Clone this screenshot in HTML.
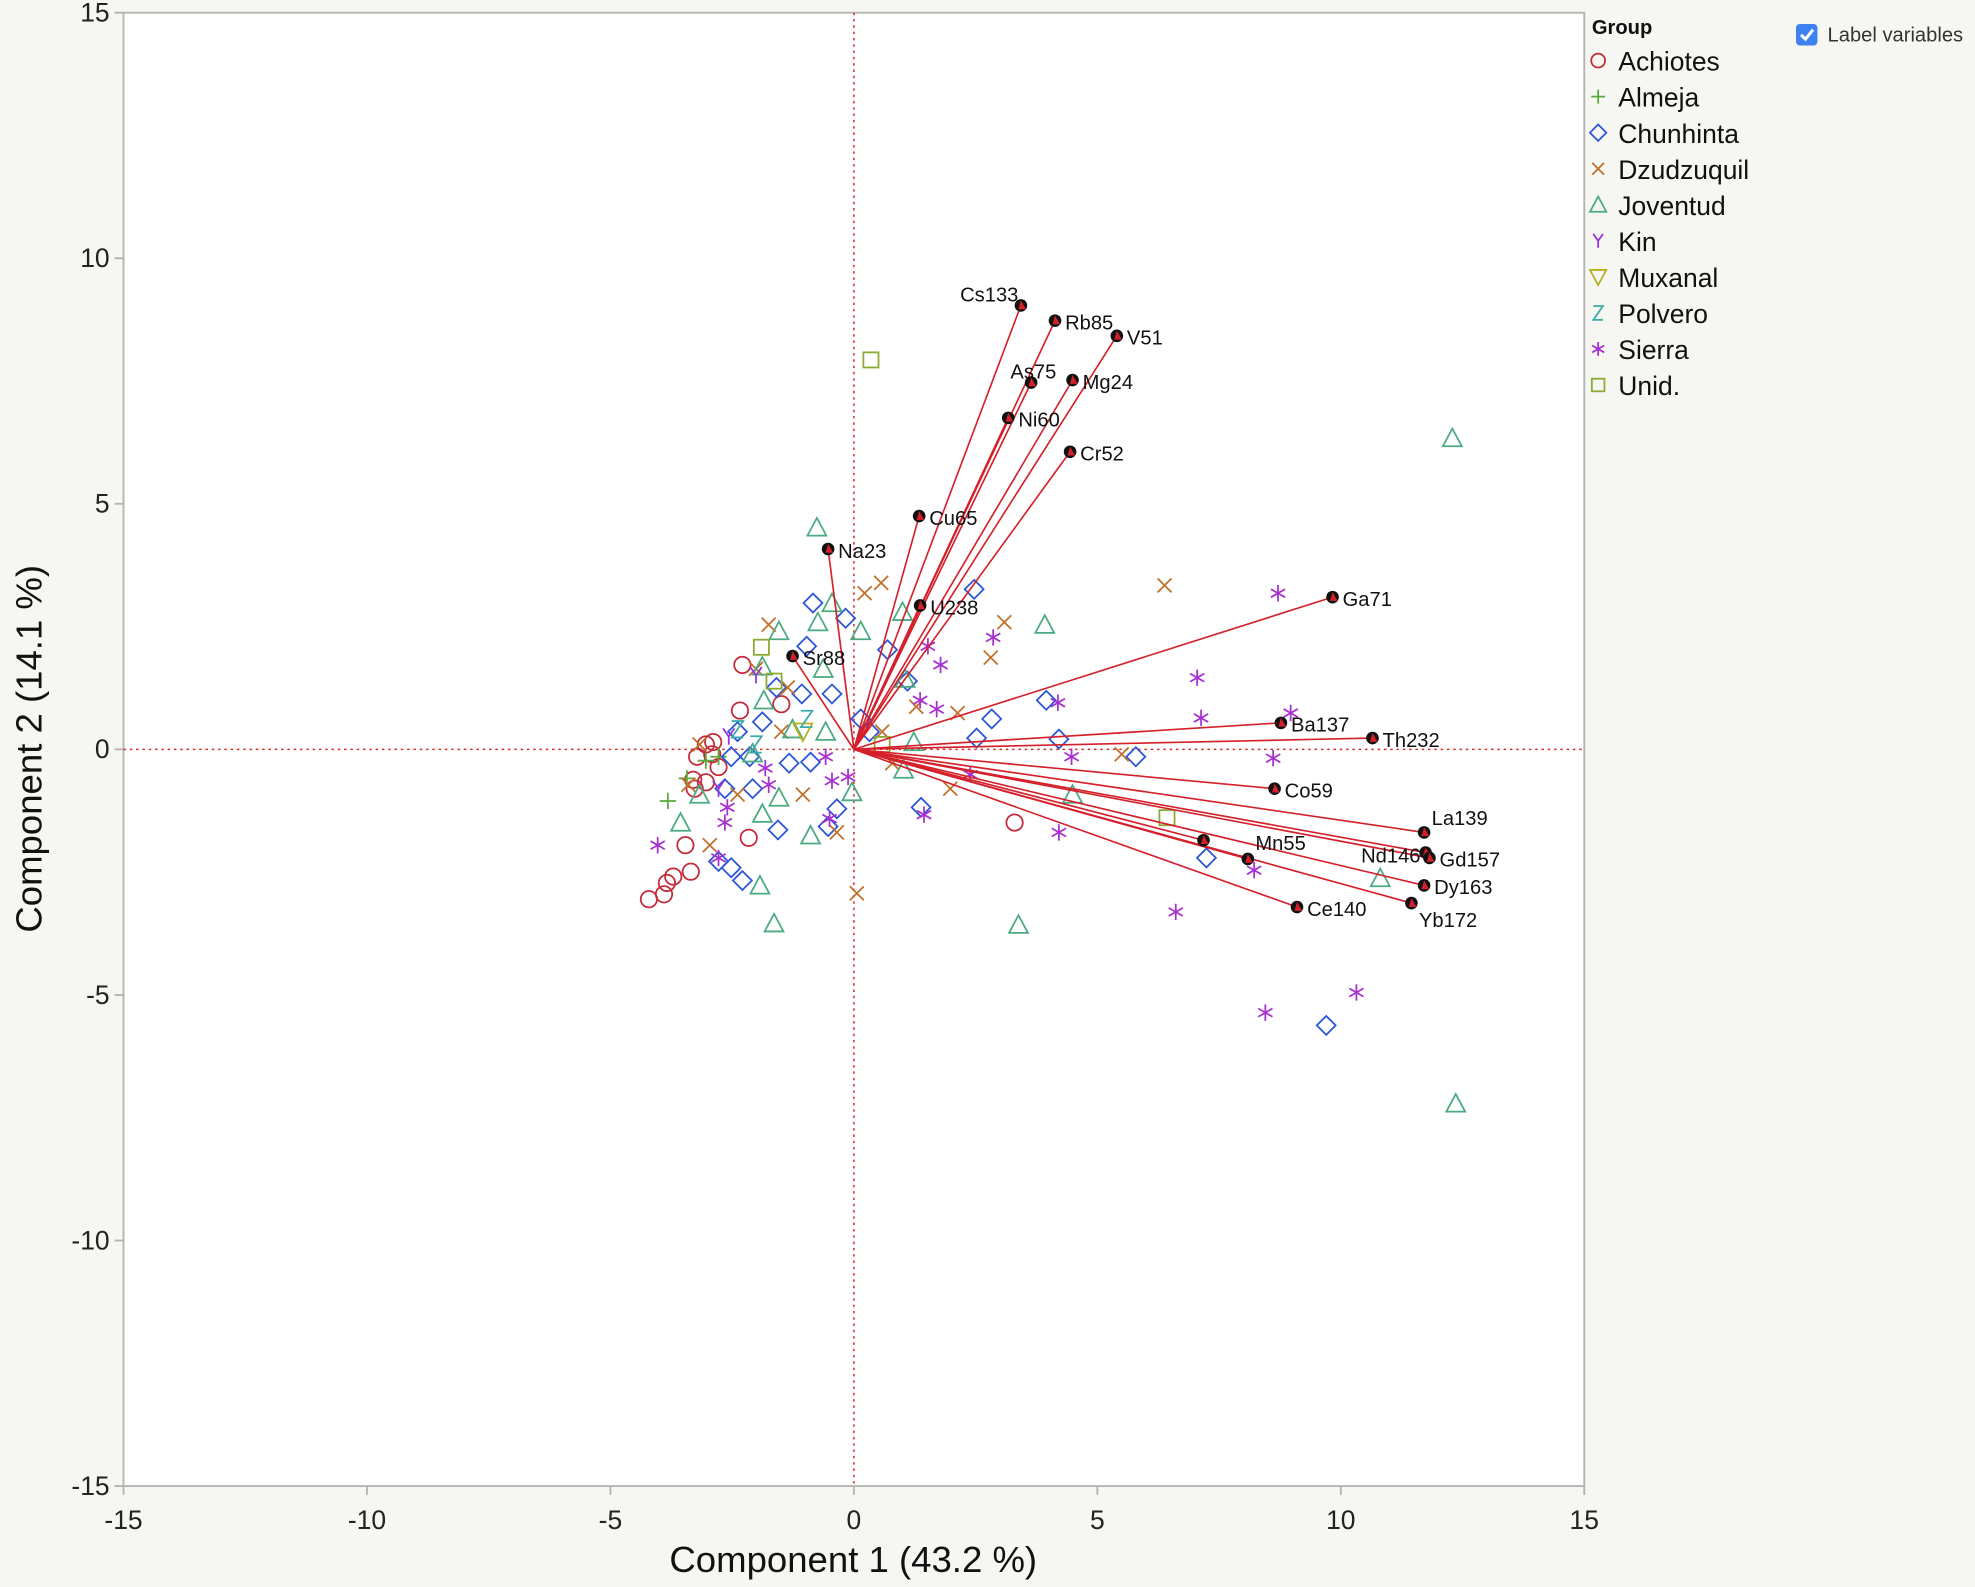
<!DOCTYPE html>
<html><head><meta charset="utf-8"><style>
html,body{margin:0;padding:0;background:#f6f6f2;}
svg{display:block;font-family:"Liberation Sans",sans-serif;}
</style></head><body>
<svg id="chart" width="1975" height="1587" viewBox="0 0 1567 1259" xmlns="http://www.w3.org/2000/svg">
<rect x="0" y="0" width="1567" height="1259" fill="#f6f6f2"/>
<rect x="98" y="10" width="1159" height="1169" fill="#ffffff" stroke="#b4b4b4" stroke-width="1.5"/>
<g id="axes"></g>
<g id="refs"></g>
<g id="scores"></g>
<g id="loadings"></g>
<text x="677" y="1247" font-size="29" text-anchor="middle" fill="#111">Component 1  (43.2 %)</text>
<text x="0" y="0" font-size="29" text-anchor="middle" fill="#111" transform="translate(33,594) rotate(-90)">Component 2  (14.1 %)</text>
<g id="legend">
<text x="1263" y="27" font-size="16" font-weight="bold" fill="#111">Group</text>
</g>
<g>
<rect x="1425" y="19" width="17" height="17" rx="3" fill="#3d82f0"/>
<path d="M1429 27.5 L1432.5 31 L1438.5 23.5" stroke="#fff" stroke-width="2.4" fill="none"/>
<text x="1450" y="33" font-size="16" fill="#333">Label variables</text>
</g>
</svg>
<script>
const xTicks=[-15,-10,-5,0,5,10,15];
const yTicks=[-15,-10,-5,0,5,10,15];
const groups=["Achiotes","Almeja","Chunhinta","Dzudzuquil","Joventud","Kin","Muxanal","Polvero","Sierra","Unid."];
const groupColors=["#c42a3a","#5aaa3c","#2a55d8","#c0702a","#4aaa80","#9a30d8","#b8b020","#3aaaaa","#a830d0","#8aaa30"];
const groupShapes=["circle","plus","diamond","x","triangle","y","tridown","z","star","square"];
const achiotesX=[-4.21,-3.90,-3.84,-3.71,-3.35,-3.46,-3.30,-3.22,-3.04,-2.89,-2.78,-2.29,-2.34,-2.16,-1.49,3.30,-3.04,-3.27,-2.91];
const achiotesY=[-3.05,-2.95,-2.72,-2.59,-2.49,-1.95,-0.62,-0.15,0.10,0.15,-0.36,1.72,0.79,-1.80,0.92,-1.49,-0.67,-0.80,-0.10];
const almejaX=[-3.82,-3.43,-3.04,-2.78];
const almejaY=[-1.05,-0.59,-0.23,-0.15];
const chunhintaX=[-0.84,-0.17,2.47,0.69,-0.97,-0.45,-1.07,-1.59,-1.88,-2.39,-2.52,-2.65,-2.78,-2.52,-2.29,-2.08,-1.56,-1.33,-0.35,-0.53,-0.89,2.83,2.52,3.95,4.21,5.79,1.38,7.24,9.70,0.32,1.10,0.14,-2.14];
const chunhintaY=[2.98,2.67,3.26,2.03,2.10,1.13,1.13,1.26,0.56,0.36,-0.15,-0.80,-2.28,-2.41,-2.67,-0.80,-1.64,-0.28,-1.21,-1.57,-0.26,0.62,0.23,1.00,0.21,-0.15,-1.18,-2.21,-5.62,0.36,1.39,0.62,-0.15];
const dzudzuquilX=[0.22,0.56,6.38,3.09,2.81,0.06,-1.75,-2.01,-3.17,-2.96,-3.40,-1.49,-0.35,-1.05,0.79,1.98,2.13,5.50,1.28,-1.36,-2.39,0.58];
const dzudzuquilY=[3.18,3.39,3.34,2.59,1.87,-2.93,2.54,1.64,0.10,-1.95,-0.72,0.36,-1.69,-0.92,-0.28,-0.80,0.74,-0.10,0.87,1.26,-0.92,0.36];
const joventudX=[-0.76,12.29,12.36,10.81,3.38,-1.64,-1.93,-0.89,-1.54,3.92,4.49,1.00,1.05,1.23,1.02,0.14,-0.45,-0.74,-1.54,-1.88,-1.85,-0.58,-1.26,-3.56,-3.17,-0.04,-2.08,-0.63,-1.88];
const joventudY=[4.52,6.34,-7.21,-2.62,-3.57,-3.54,-2.77,-1.75,-0.98,2.54,-0.92,2.80,1.44,0.15,-0.41,2.41,2.98,2.59,2.41,1.69,1.00,0.36,0.41,-1.49,-0.92,-0.87,-0.08,1.64,-1.31];
const kinX=[-2.01,-2.78,-2.57];
const kinY=[1.51,-0.80,0.26];
const muxanalX=[-1.05];
const muxanalY=[0.36];
const polveroX=[-0.97,-2.39,-2.01];
const polveroY=[0.62,0.41,0.10];
const sierraX=[8.71,7.05,7.13,8.97,8.61,8.22,6.61,8.45,10.32,4.21,4.47,4.19,2.86,1.78,1.70,1.52,2.39,1.44,-0.12,-0.45,-0.50,-0.58,-1.82,-1.75,-2.60,-2.78,-4.03,-2.65,1.36];
const sierraY=[3.18,1.46,0.64,0.74,-0.18,-2.46,-3.31,-5.36,-4.95,-1.69,-0.15,0.95,2.28,1.72,0.82,2.10,-0.51,-1.33,-0.56,-0.64,-1.41,-0.15,-0.38,-0.72,-1.18,-2.21,-1.95,-1.49,1.00];
const unidX=[0.35,-1.90,-1.64,6.43,0.58];
const unidY=[7.93,2.08,1.39,-1.39,0.10];
const loadingNames=["Cs133","Rb85","V51","As75","Mg24","Ni60","Cr52","Cu65","Na23","U238","Sr88","Ga71","Ba137","Th232","Co59","La139","Nd146","Gd157","Dy163","Yb172","Mn55","","Ce140"];
const loadingX=[3.43,4.13,5.40,3.64,4.49,3.17,4.44,1.34,-0.53,1.36,-1.26,9.83,8.77,10.65,8.64,11.71,11.74,11.82,11.71,11.45,8.09,7.18,9.10];
const loadingY=[9.04,8.73,8.42,7.47,7.52,6.75,6.06,4.75,4.08,2.93,1.90,3.10,0.54,0.23,-0.80,-1.69,-2.10,-2.21,-2.77,-3.13,-2.23,-1.85,-3.21];

const NS="http://www.w3.org/2000/svg";
const X0=98,X1=1257,Y0=1179,Y1=10;
function sx(v){return X0+(v+15)/30*(X1-X0);}
function sy(v){return Y0-(v+15)/30*(Y0-Y1);}
function mk(tag,attrs,parent){const e=document.createElementNS(NS,tag);for(const k in attrs)e.setAttribute(k,attrs[k]);parent.appendChild(e);return e;}

const axes=document.getElementById('axes');
xTicks.forEach(t=>{
  const l=mk('line',{x1:sx(t),x2:sx(t),y1:Y0,y2:Y0+7,stroke:'#b4b4b4','stroke-width':1.5},axes);
  
  
  const tx=mk('text',{x:sx(t),y:Y0+34,'font-size':21,'text-anchor':'middle',fill:'#222'},axes);
  tx.textContent=t;
  
  
});
yTicks.forEach(t=>{
  const l=mk('line',{x1:X0-7,x2:X0,y1:sy(t),y2:sy(t),stroke:'#b4b4b4','stroke-width':1.5},axes);
  
  
  const tx=mk('text',{x:X0-11,y:sy(t)+7,'font-size':21,'text-anchor':'end',fill:'#222'},axes);
  tx.textContent=t;
  
  
});
const refs=document.getElementById('refs');
const rv=mk('line',{x1:sx(0),x2:sx(0),y1:Y1,y2:Y0,stroke:'#d43030','stroke-width':1.2,'stroke-dasharray':'2,3'},refs);


const rh=mk('line',{x1:X0,x2:X1,y1:sy(0),y2:sy(0),stroke:'#d43030','stroke-width':1.2,'stroke-dasharray':'2,3'},refs);



function marker(shape,x,y,c,parent,s){
  s=s||6.5;
  const g=mk('g',{stroke:c,fill:'none','stroke-width':1.4},parent);
  if(shape==='circle')mk('circle',{cx:x,cy:y,r:s},g);
  else if(shape==='plus'){mk('path',{d:`M${x-s} ${y}H${x+s}M${x} ${y-s}V${y+s}`},g);}
  else if(shape==='diamond')mk('path',{d:`M${x} ${y-s-1}L${x+s+1} ${y}L${x} ${y+s+1}L${x-s-1} ${y}Z`},g);
  else if(shape==='x'){const d=s*0.85;mk('path',{d:`M${x-d} ${y-d}L${x+d} ${y+d}M${x+d} ${y-d}L${x-d} ${y+d}`},g);}
  else if(shape==='triangle')mk('path',{d:`M${x} ${y-s-1}L${x+s+1} ${y+s}L${x-s-1} ${y+s}Z`},g);
  else if(shape==='tridown')mk('path',{d:`M${x-s-1} ${y-s}L${x+s+1} ${y-s}L${x} ${y+s+1}Z`},g);
  else if(shape==='y')mk('path',{d:`M${x-s*0.7} ${y-s}L${x} ${y}L${x+s*0.7} ${y-s}M${x} ${y}V${y+s}`},g);
  else if(shape==='z')mk('path',{d:`M${x-s*0.7} ${y-s}H${x+s*0.7}L${x-s*0.7} ${y+s}H${x+s*0.7}`},g);
  else if(shape==='star'){const d=s*0.87;mk('path',{d:`M${x} ${y-s}V${y+s}M${x-d} ${y-s/2}L${x+d} ${y+s/2}M${x-d} ${y+s/2}L${x+d} ${y-s/2}`},g);}
  else if(shape==='square')mk('rect',{x:x-s+0.5,y:y-s+0.5,width:2*s-1,height:2*s-1},g);
  return g;
}
const seriesX=[achiotesX,almejaX,chunhintaX,dzudzuquilX,joventudX,kinX,muxanalX,polveroX,sierraX,unidX];
const seriesY=[achiotesY,almejaY,chunhintaY,dzudzuquilY,joventudY,kinY,muxanalY,polveroY,sierraY,unidY];
const scores=document.getElementById('scores');
groups.forEach((gname,i)=>{
  seriesX[i].forEach((v,j)=>{
    const m=marker(groupShapes[i],sx(v),sy(seriesY[i][j]),groupColors[i],scores);
    
    
  });
});
const load=document.getElementById('loadings');
loadingX.forEach((v,i)=>{
  const ln=mk('line',{x1:sx(0),y1:sy(0),x2:sx(v),y2:sy(loadingY[i]),stroke:'#d4202a','stroke-width':1.3},load);
  
  
});
loadingX.forEach((v,i)=>{
  const x=sx(v),y=sy(loadingY[i]);
  const c=mk('circle',{cx:x,cy:y,r:5,fill:'#111'},load);
  
  
  mk('path',{d:`M${x} ${y-4}L${x+4} ${y+3}L${x-2} ${y+3}Z`,fill:'#d4202a'},load);
  const nm=loadingNames[i];
  if(!nm)return;
  let lx=x+8,ly=y+7,anchor='start';
  if(nm==='Cs133'){lx=x-2;ly=y-3;anchor='end';}
  if(nm==='As75'){lx=x+20;ly=y-3;anchor='end';}
  if(nm==='Nd146'){lx=x-4;ly=y+8;anchor='end';}
  if(nm==='La139'){lx=x+6;ly=y-6;}
  if(nm==='Yb172'){lx=x+6;ly=y+19;}
  if(nm==='Mn55'){lx=x+6;ly=y-7;}
  const t=mk('text',{x:lx,y:ly,'font-size':16,'text-anchor':anchor,fill:'#111'},load);
  t.textContent=nm;
  
  
});
const leg=document.getElementById('legend');
groups.forEach((gname,i)=>{
  const y=48+28.6*i;
  const m=marker(groupShapes[i],1268,y,groupColors[i],leg,5.5);
  
  
  const t=mk('text',{x:1284,y:y+8,'font-size':21,fill:'#111'},leg);
  t.textContent=gname;
  
  
});
</script>
</body></html>
